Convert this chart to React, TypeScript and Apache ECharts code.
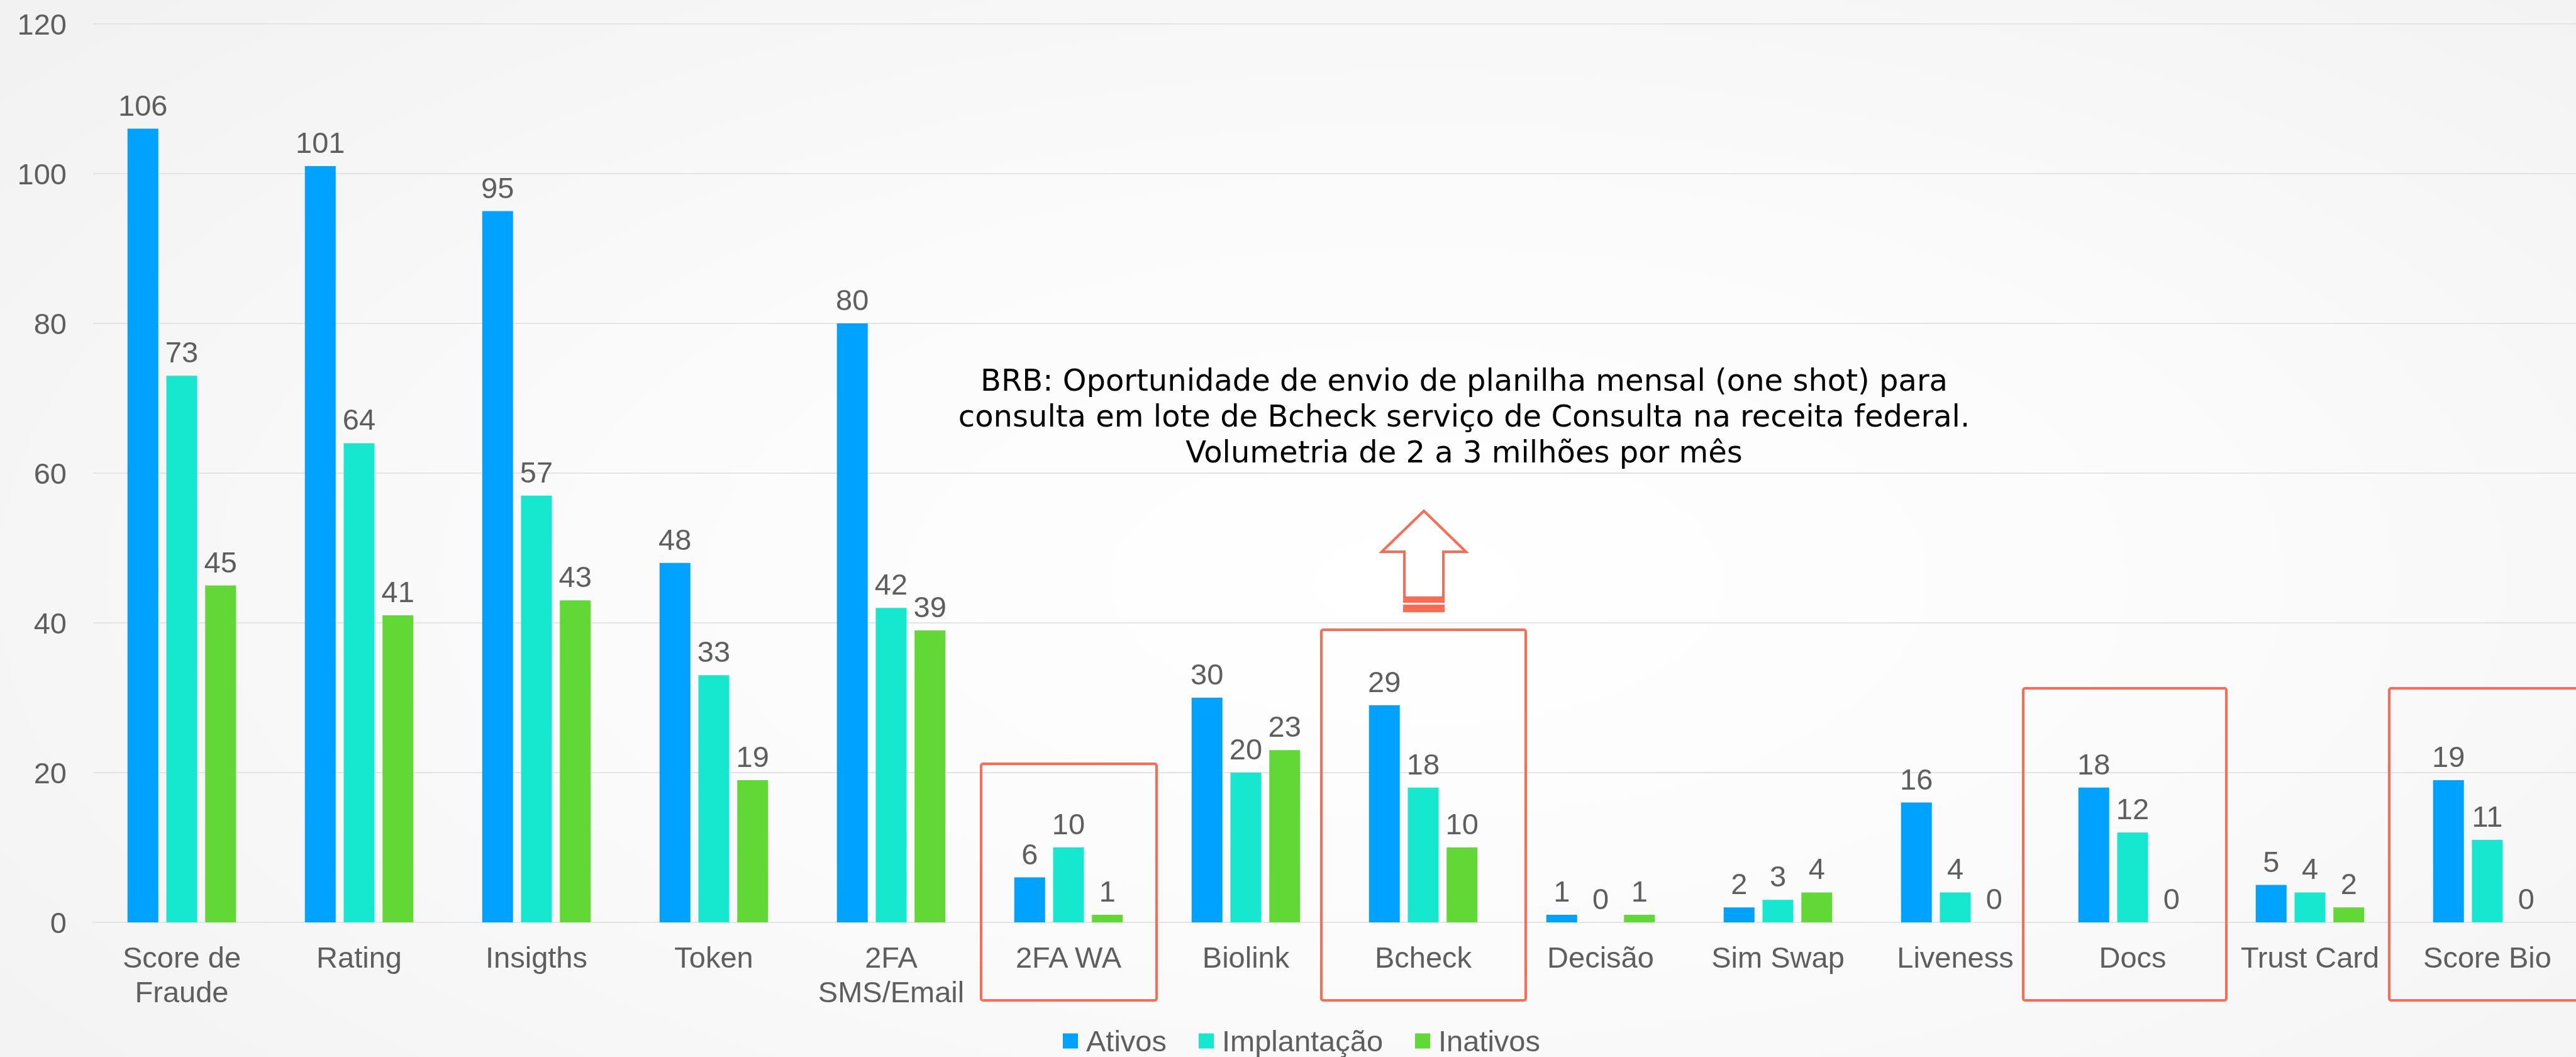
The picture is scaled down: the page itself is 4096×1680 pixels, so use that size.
import React, { useEffect, useRef } from "react";
import * as echarts from "echarts";

const categories = [
  "Score de\nFraude",
  "Rating",
  "Insigths",
  "Token",
  "2FA\nSMS/Email",
  "2FA WA",
  "Biolink",
  "Bcheck",
  "Decisão",
  "Sim Swap",
  "Liveness",
  "Docs",
  "Trust Card",
  "Score Bio",
];
const ativos = [106, 101, 95, 48, 80, 6, 30, 29, 1, 2, 16, 18, 5, 19];
const implantacao = [73, 64, 57, 33, 42, 10, 20, 18, 0, 3, 4, 12, 4, 11];
const inativos = [45, 41, 43, 19, 39, 1, 23, 10, 1, 4, 0, 0, 2, 0];
const seriesNames = ["Ativos", "Implantação", "Inativos"];
const yTicks = { min: 0, max: 120, interval: 20 };
const noteLines = [
  "BRB: Oportunidade de envio de planilha mensal (one shot) para",
  "consulta em lote de Bcheck serviço de Consulta na receita federal.",
  "Volumetria de 2 a 3 milhões por mês",
];

const COLORS = ["#00A2FF", "#16E7CF", "#61D836"];
const TEXT = "#5E5E5E";
const RED = "#FF6A52";
const W = 4096;
const H = 1680;
const GRID_LEFT = 148;
const GRID_TOP = 38;
const GRID_BOTTOM = 214;

export default function App() {
  const ref = useRef<HTMLDivElement>(null);
  useEffect(() => {
    if (!ref.current) return;
    const chart = echarts.init(ref.current, null, { renderer: "svg", width: W, height: H });
    const catW = (W - GRID_LEFT) / categories.length;
    const boxFor = (i: number, top: number, bottom: number, l: number, r: number) => ({
      type: "rect",
      shape: {
        x: GRID_LEFT + catW * i + l,
        y: top,
        width: catW + r - l,
        height: bottom - top,
        r: 3,
      },
      style: { fill: "none", stroke: RED, lineWidth: 4 },
      z: 100,
    });
    const labelCfg = {
      show: true,
      position: "top",
      distance: 14,
      fontSize: 47,
      lineHeight: 47,
      color: TEXT,
      fontFamily: "Liberation Sans, Arial, sans-serif",
    };
    const datasets = [ativos, implantacao, inativos];
    chart.setOption({
      animation: false,
      backgroundColor: "transparent",
      textStyle: { fontFamily: "Liberation Sans, Arial, sans-serif" },
      grid: { left: GRID_LEFT, right: 0, top: GRID_TOP, bottom: GRID_BOTTOM, containLabel: false },
      legend: {
        data: seriesNames,
        left: 1690,
        top: 1631,
        padding: 0,
        itemWidth: 24,
        itemHeight: 24,
        itemGap: 51,
        icon: "rect",
        textStyle: { fontSize: 47, color: TEXT, padding: [0, 0, 0, 8] },
      },
      xAxis: {
        type: "category",
        data: categories,
        axisLine: { show: true, lineStyle: { color: "#E4E4E4", width: 2 } },
        axisTick: { show: false },
        axisLabel: {
          interval: 0,
          fontSize: 47,
          lineHeight: 55,
          color: TEXT,
          margin: 28,
        },
      },
      yAxis: {
        type: "value",
        min: yTicks.min,
        max: yTicks.max,
        interval: yTicks.interval,
        axisLine: { show: false },
        axisTick: { show: false },
        splitLine: { lineStyle: { color: "#E4E4E4", width: 2 } },
        axisLabel: { fontSize: 47, color: TEXT, margin: 42 },
      },
      series: seriesNames.map((name, k) => ({
        name,
        type: "bar",
        data: datasets[k],
        barWidth: 49,
        barGap: "26%",
        itemStyle: { color: COLORS[k] },
        label: labelCfg,
      })),
      graphic: [
        {
          type: "text",
          x: 2328,
          y: 661,
          z: 100,
          style: {
            text: noteLines.join("\n"),
            fontSize: 48,
            lineHeight: 57,
            fontFamily: "DejaVu Sans",
            fill: "#000000",
            align: "center",
            verticalAlign: "middle",
          },
        },
        {
          type: "polygon",
          z: 100,
          shape: {
            points: [
              [2264, 812],
              [2331, 877],
              [2295, 877],
              [2295, 950],
              [2233, 950],
              [2233, 877],
              [2197, 877],
            ],
          },
          style: { fill: "none", stroke: RED, lineWidth: 4 },
        },
        {
          type: "rect",
          z: 100,
          shape: { x: 2231, y: 949, width: 66, height: 9 },
          style: { fill: RED },
        },
        {
          type: "rect",
          z: 100,
          shape: { x: 2231, y: 961, width: 66, height: 12 },
          style: { fill: RED },
        },
        boxFor(5, 1214, 1590, 2, -1),
        boxFor(7, 1001, 1590, -21, 22),
        boxFor(11, 1094, 1590, -33, 8),
        boxFor(13, 1094, 1590, -15, 30),
      ],
    });
    return () => chart.dispose();
  }, []);
  return (
    <div
      ref={ref}
      style={{
        position: "fixed",
        left: 0,
        top: 0,
        width: W,
        height: H,
        background:
          "radial-gradient(ellipse 70% 80% at 55% 55%, #ffffff 0%, #fbfbfb 45%, #f2f2f2 100%)",
      }}
    />
  );
}
